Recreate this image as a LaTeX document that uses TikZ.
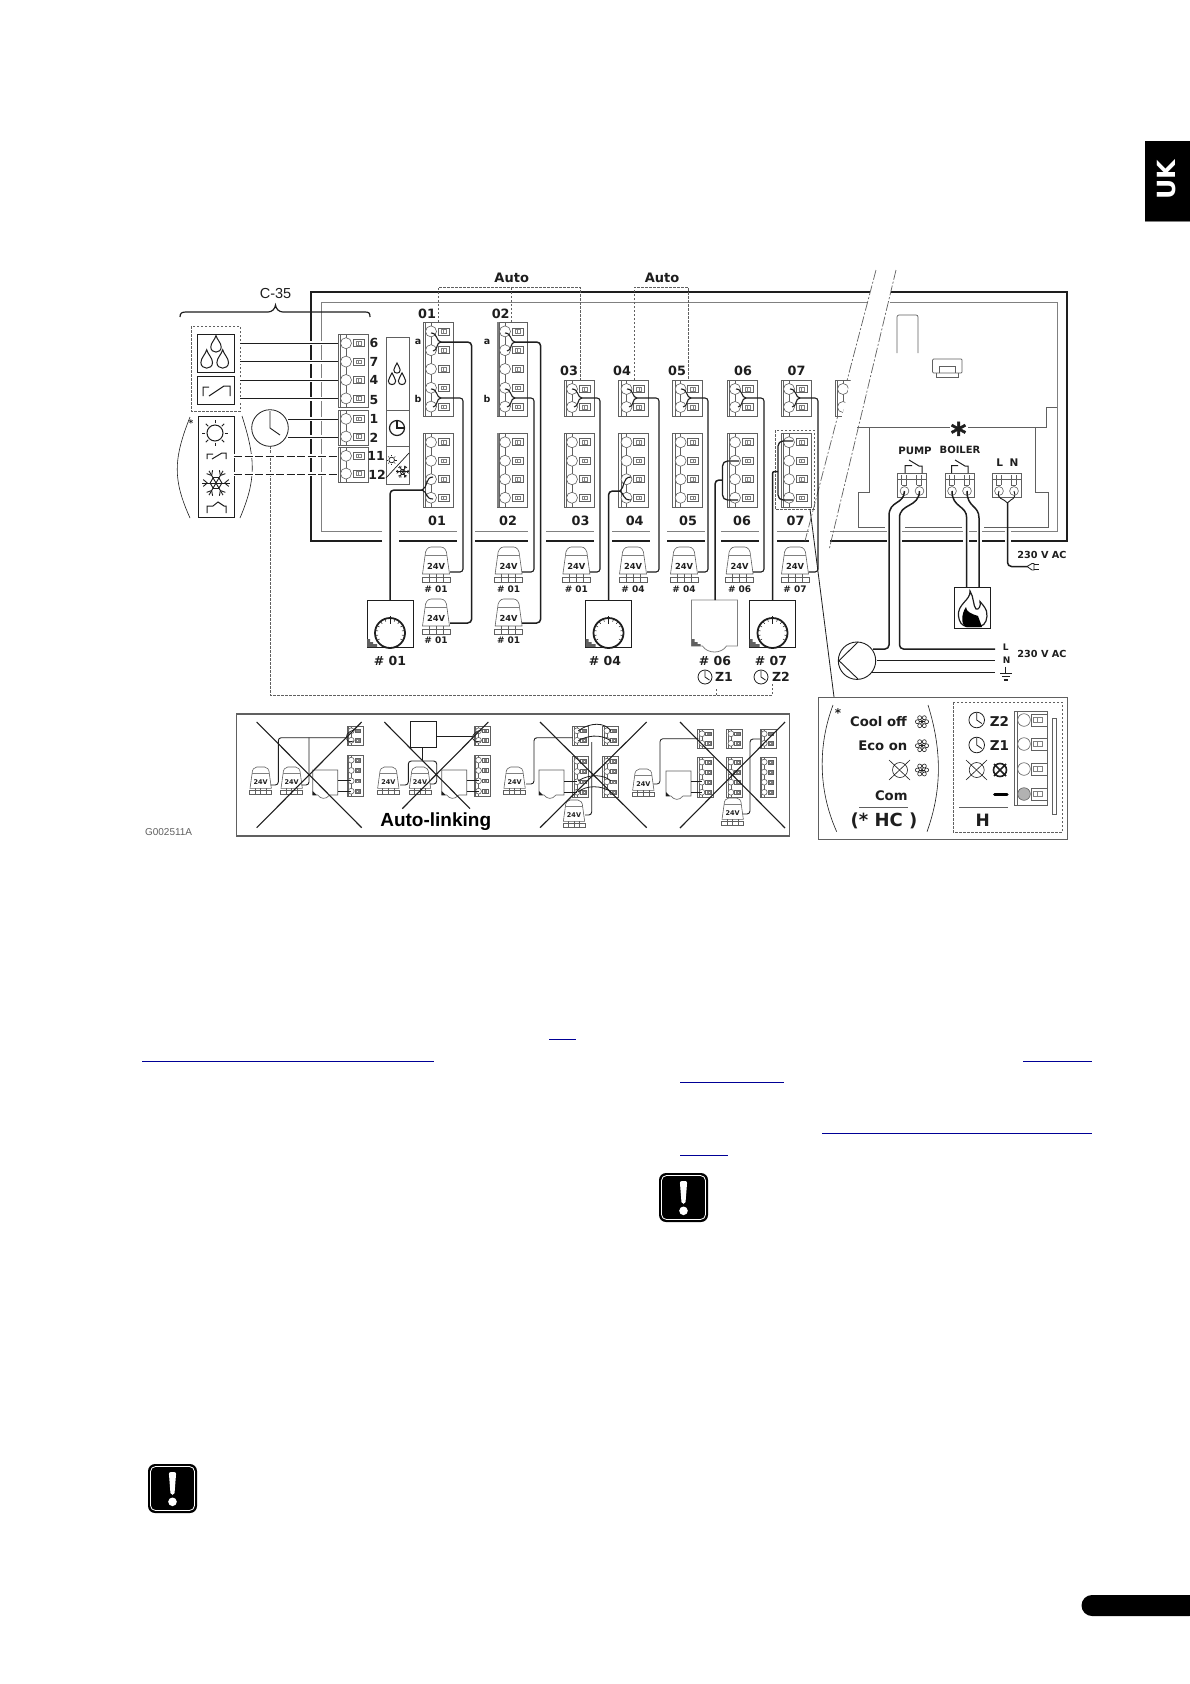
\documentclass[tikz,border=0pt]{standalone}
\usepackage{fontspec}
\setmainfont{Liberation Sans}
\newfontfamily\djfont{DejaVu Sans}
\newfontfamily\starfont[FakeBold=1.6]{DejaVu Sans Bold}
\newcommand\djb[1]{\djfont\bfseries\fontsize{#1}{#1}\selectfont}
\newcommand\arl[1]{\fontsize{#1}{#1}\selectfont}
\definecolor{ink}{HTML}{1E1E1E}
\definecolor{midg}{HTML}{606060}
\definecolor{lineg}{HTML}{808080}
\definecolor{linkb}{HTML}{000096}
\tikzset{
  tb/.style={draw=midg,line width=.6pt},
  wire/.style={draw=ink,line width=1.5pt,rounded corners=4pt},
  thin wire/.style={draw=ink,line width=1.1pt,rounded corners=3pt},
  hwire/.style={draw=ink,line width=.9pt,preaction={draw=white,line width=4pt,solid}},
  dashw/.style={draw=ink,line width=1pt,dash pattern=on 8pt off 2.5pt,preaction={draw=white,line width=4pt,solid}},
  thinw/.style={draw=ink,line width=.7pt},
  autod/.style={draw=midg,line width=.7pt,dash pattern=on 2.5pt off 1.5pt},
  frameo/.style={draw=ink,line width=1.4pt},
  framei/.style={draw=lineg,line width=.9pt},
  iconl/.style={draw=ink,line width=1pt},
  cutl/.style={draw=midg,line width=.7pt,dash pattern=on 10pt off 2pt on 2pt off 2pt},
  xl/.style={draw=ink,line width=1.1pt},
  txt/.style={inner sep=0pt,text=ink}
}
% terminal block: x,y,rows,pitch
\newcommand\tblock[4]{%
  \begin{scope}[shift={(#1,#2)}]
    \draw[tb,fill=white] (0,0) rectangle (30,#3*#4);
    \foreach \r in {1,...,#3}{%
      \pgfmathsetmacro\yy{(\r-0.5)*#4}%
      \pgfmathsetmacro\ya{(\r-1)*#4}%
      \pgfmathsetmacro\yb{\r*#4}%
      \draw[tb] (2.5,\ya) -- (2.5,\yb) (2.5,\yy) -- (8,\yy);
      \draw[tb] (8,\ya) -- (8,\yb);
      \draw[tb,fill=white] (8,\yy) circle[radius=5.5];
      \draw[tb,fill=white] (15,\yy-3.5) rectangle (26,\yy+3.5);
      \draw[tb,draw=lineg] (18,\yy-1.8) rectangle (20.5,\yy+1.8) (20.5,\yy-1.8) rectangle (23,\yy+1.8);
    }
  \end{scope}}
\newcommand\stblock[4]{\begin{scope}[shift={(#1,#2)},scale=.53]\tblock{0}{0}{#3}{#4}\end{scope}}
% actuator: cx,top,scale,fontsize,name
\newcommand\act[5]{%
  \begin{scope}[shift={(#1,#2)},scale=#3]
    \draw[tb,fill=white] (-13.5,27) -- (-11,9) .. controls (-11,3) and (-8,0) .. (-5,0) -- (5,0) .. controls (8,0) and (11,3) .. (11,9) -- (13.5,27) -- cycle;
    \draw[draw=lineg,line width=.5pt] (-11,8) -- (11,8);
    \draw[tb] (-14,30) rectangle (14,35) (-7,27) -- (-7,35) (0,27) -- (0,35) (7,27) -- (7,35);
    \node[txt,font=\djb{#4}] (#5) at (0,19) {24V};
  \end{scope}}
% thermostat with dial: cx,top
\newcommand\dialic[2]{%
  \begin{scope}[shift={(#1,#2)}]
    \draw[draw=ink,line width=.8pt,fill=white] (-23,0) rectangle (23,47);
    \fill[midg] (-23,47) -- (-23,39) -- (-20,39) -- (-20,42) -- (-17,42) -- (-17,44) -- (-13,44) -- (-13,47) -- cycle;
    \draw[draw=ink,line width=1.8pt,fill=white] (0,33) circle[radius=15];
    \foreach \a in {-210,-190,...,30}{\draw[draw=ink,line width=.5pt] ($(0,33)+(\a:15)$) -- ($(0,33)+(\a:12)$);}
    \draw[draw=ink,line width=.7pt] (0,16) -- (0,24);
  \end{scope}}
\newcommand\tplain[2]{%
  \begin{scope}[shift={(#1,#2)}]
    \draw[draw=lineg,line width=.8pt,fill=white] (-23,0) -- (23,0) -- (23,46) -- (12,46) .. controls (7,54) and (-7,54) .. (-12,46) -- (-23,46) -- cycle;
    \fill[midg] (-23,46) -- (-23,39) -- (-20,39) -- (-20,42) -- (-17,42) -- (-17,44) -- (-14,44) -- (-14,46) -- cycle;
  \end{scope}}
\newcommand\stbox[2]{%
  \begin{scope}[shift={(#1,#2)}]
    \draw[draw=midg,line width=.6pt,fill=white] (0,0) -- (25,0) -- (25,25) -- (17,25) .. controls (13,30) and (8,29) .. (5,25) -- (0,25) -- cycle;
    \fill[ink] (0,25) -- (0,21) -- (4,25) -- cycle;
  \end{scope}}
\newcommand\clk[3]{%
  \draw[draw=ink,line width=.8pt] (#1,#2) circle[radius=#3];
  \draw[draw=ink,line width=.8pt] (#1,#2-.9*#3) -- (#1,#2) -- (#1+.65*#3,#2+.45*#3);}
\newcommand\dropic[3]{% cx, cy of bulb, r
  \draw[iconl] (#1,#2-2.2*#3) .. controls (#1+.2*#3,#2-1.4*#3) and (#1+#3,#2-.8*#3) .. (#1+#3,#2)
     .. controls (#1+#3,#2+1.3*#3) and (#1-#3,#2+1.3*#3) .. (#1-#3,#2)
     .. controls (#1-#3,#2-.8*#3) and (#1-.2*#3,#2-1.4*#3) .. cycle;}
\newcommand\sunic[3]{%
  \draw[iconl] (#1,#2) circle[radius=#3];
  \foreach \a in {0,45,...,315}{\draw[iconl] ($(#1,#2)+(\a:#3+1.6)$) -- ($(#1,#2)+(\a:#3+5)$);}}
\newcommand\snowic[4]{% x,y,r,lw
  \foreach \a in {0,60,...,300}{%
    \draw[draw=ink,line width=#4] (#1,#2) -- ++(\a:#3);
    \draw[draw=ink,line width=#4] ($(#1,#2)+(\a:.42*#3)$) -- ($(#1,#2)+(\a+60:.42*#3)$);
    \draw[draw=ink,line width=#4] ($(#1,#2)+(\a:.62*#3)$) -- ++(\a+40:.38*#3);
    \draw[draw=ink,line width=#4] ($(#1,#2)+(\a:.62*#3)$) -- ++(\a-40:.38*#3);
  }}
\newcommand\ringsnow[2]{%
  \foreach \a in {0,60,...,300}{%
    \draw[draw=ink,line width=.6pt] (#1,#2) -- ++(\a:3);
    \draw[draw=ink,line width=.6pt] ($(#1,#2)+(\a:4.6)$) circle[radius=2];
  }}
\newcommand\fork[3]{% x (circle), y1, y2 : to x+11, mid
  \pgfmathsetmacro\ym{(#2+#3)/2}%
  \draw[draw=ink,line width=1.1pt] (#1,#2) .. controls (#1+7,#2) and (#1+5,\ym) .. (#1+10,\ym);
  \draw[draw=ink,line width=1.1pt] (#1+2,#3) .. controls (#1+7,#3) and (#1+5,\ym) .. (#1+10,\ym);}
\newcommand\pblock[3]{% x
  \begin{scope}[shift={(#1,473)}]
    \draw[tb,fill=white] (0,0) rectangle (29,24);
    \draw[tb] (0,6) -- (29,6);
    \draw[tb] (4,2) -- (4,12) (9,2) -- (9,12) (19,2) -- (19,12) (24,2) -- (24,12) (4,12) -- (9,12) (19,12) -- (24,12);
    \draw[tb,fill=white] (7,18) circle[radius=4.4] (22,18) circle[radius=4.4];
  \end{scope}}
\newcommand\warnic[2]{%
  \begin{scope}[shift={(#1,#2)}]
    \fill[black,rounded corners=7pt] (0,0) rectangle (49,49);
    \draw[white,line width=.8pt,rounded corners=5pt] (2.5,2.5) rectangle (46.5,46.5);
    \fill[white,rounded corners=2pt] (20.8,8) -- (28.2,8) -- (26.4,31) -- (22.6,31) -- cycle;
    \fill[white] (24.5,37.8) circle[radius=4.3];
  \end{scope}}
\usetikzlibrary{calc}
\begin{document}
\begin{tikzpicture}[x=1pt,y=-1pt]
\useasboundingbox (0,0) rectangle (1190,1684);
\fill[white] (0,0) rectangle (1190,1684);

% ===== page decorations
\fill[black] (1145,141) rectangle (1190,221);
\draw[draw=lineg,line width=.8pt] (1145,221.5) -- (1190,221.5);
\node[inner sep=0pt,text=white,font=\djb{25},rotate=90] (uk) at (1166.5,180) {UK};
\fill[black,rounded corners=10.5pt] (1081.5,1595) rectangle (1200,1616);
\warnic{659}{1173}
\warnic{148}{1464}
\foreach \a/\b/\c in {549/576/1039.3,142/434/1061.3,1023.4/1092/1061.3,680/784/1082.7,822/1092/1133.3,680/728/1155.3}{\draw[draw=linkb,line width=1pt] (\a,\c) -- (\b,\c);}

% ===== housing frames
\draw[frameo] (382,541) -- (311,541) -- (311,292) -- (870,292);
\draw[frameo] (891,292) -- (1067,292) -- (1067,541) -- (1011,541);
\draw[framei] (382,531) -- (321,531) -- (321,302) -- (867,302);
\draw[framei] (889.5,302) -- (1057,302) -- (1057,531) -- (1011,531);
\foreach \a/\b in {399/457,475/528,546/594,612/650,667/705,721/759,777/809,830/887,902/963,969/977,982/1005}{
  \draw[frameo] (\a,541) -- (\b,541);
  \draw[framei] (\a,531) -- (\b,531);}
% break lines
\draw[cutl] (876,270) -- (805,541);
\draw[cutl] (896,270) -- (829,550);
% PCB outline right part
\draw[draw=midg,line width=.7pt] (857,427) -- (950,427) (968,427) -- (1046,427) -- (1046,407) -- (1057,407);
\draw[draw=midg,line width=.7pt] (869,427) -- (869,492) -- (858.5,492) -- (858.5,527) -- (885,527) (905,527) -- (962,527) (984,527) -- (1048,527) -- (1048,492) -- (1035,492) -- (1035,427);
\draw[draw=midg,line width=.7pt,rounded corners=2pt] (897,353) -- (897,315) -- (918,315) -- (918,353);
\draw[draw=midg,line width=.7pt,rounded corners=1pt] (932.5,359) rectangle (962,373);
\draw[draw=midg,line width=.7pt] (939.5,373) -- (939.5,366) -- (955,366) -- (955,373) (936,373) -- (936,377) -- (958,377) -- (958,373);
\node[txt,font=\starfont\fontsize{30}{30}\selectfont] (star) at (958.5,433) {*};

% ===== C-35 brace
\node[txt,font=\arl{14.5}] (c35) at (275.5,294) {C-35};
\draw[draw=ink,line width=1.2pt] (180,317) .. controls (180,313) and (182,312) .. (186,312) -- (268,312) .. controls (272,312) and (275,309) .. (275.5,305) .. controls (276,309) and (279,312) .. (283,312) -- (365,312) .. controls (369,312) and (370,313) .. (370,317);

% ===== left input boxes
\draw[autod] (191,326) rectangle (240,411);
\draw[draw=ink,line width=.9pt] (197,334) rectangle (234,372);
\draw[draw=ink,line width=.9pt] (197,376) rectangle (234,404);
\draw[draw=ink,line width=.9pt] (198,416) rectangle (234,517);
\dropic{216}{347}{5.2}
\dropic{206.7}{362.5}{5.8}
\dropic{222.7}{362.5}{5.8}
\draw[iconl] (203,396) -- (203,387) -- (209,387) (209,396) -- (224,386) -- (230,386) -- (230,396);
\sunic{215}{433}{8}
\draw[iconl] (207,459) -- (207,454) -- (213,454) (212,459) -- (222,453) -- (226,453) -- (226,459);
\snowic{216}{483}{14}{.9pt}
\draw[iconl] (207,513) -- (207,506) -- (213,506) -- (218,502) -- (224,506) -- (226,506) -- (226,513);
\draw[draw=ink,line width=.6pt] (190,417) .. controls (173,460) and (173,480) .. (190,518);
\draw[draw=ink,line width=.6pt] (242,416) .. controls (256,460) and (256,480) .. (240,518);
\node[txt,font=\djb{9}] (astl) at (191,423) {*};

% ===== timer clock and its bus
\draw[autod] (270,446) -- (270,695) -- (772,695) -- (772,683);
\draw[autod] (716,695) -- (716,688);

% ===== auto dashed
\draw[autod] (438,322) -- (438,287) -- (580,287) -- (580,380);
\draw[autod] (511.7,322) -- (511.7,287);
\draw[autod] (634.4,380) -- (634.4,287) -- (688,287) -- (688,380);
\node[txt,font=\djb{13}] (auto1) at (511.7,277.5) {Auto};
\node[txt,font=\djb{13}] (auto2) at (662,277.5) {Auto};

% ===== wires to C-35
\coordinate (c6) at (347,343); \coordinate (c7) at (347,361.5); \coordinate (c4) at (347,380);
\coordinate (c5) at (347,398.5); \coordinate (c1) at (347,419); \coordinate (c2) at (347,437);
\coordinate (c11) at (347,456); \coordinate (c12) at (347,474);
\draw[hwire] (240,343) -- (c6);
\draw[hwire] (240,361.5) -- (c7);
\draw[hwire] (240,380) -- (c4);
\draw[hwire,line width=.7pt] (240,398.5) -- (c5);
\draw[hwire] (288,419) -- (c1);
\draw[hwire] (288,437) -- (c2);
\draw[dashw] (234,456) -- (c11);
\draw[dashw] (234,474) -- (c12);
\draw[draw=ink,line width=.8pt,fill=white] (270,428) circle[radius=18.3];
\draw[draw=ink,line width=.9pt] (270,411) -- (270,428) -- (280,435);

% ===== C-35 terminals
\tblock{338}{334}{4}{18.4}
\tblock{338}{410}{2}{17.7}
\tblock{338}{447}{2}{17.7}
\foreach \n/\y/\x/\lab in {t6/342.5/374/6,t7/362/374/7,t4/380/374/4,t5/400/374/5,t1/419/374/1,t2/438/374/2,t11/456/376/11,t12/475/377/12}{
  \node[txt,font=\djb{12.5}] (\n) at (\x,\y) {\lab};}
% function panel
\draw[draw=midg,line width=.7pt] (386,337) rectangle (409,484) (386,410) -- (409,410) (386,446) -- (409,446);
\dropic{397}{370}{3.2}
\dropic{392}{381}{3.7}
\dropic{402}{381}{3.7}
\draw[draw=ink,line width=1.2pt] (397,428) circle[radius=7.5];
\draw[draw=ink,line width=1.2pt] (397,420.5) -- (397,428) -- (404,428);
\draw[draw=ink,line width=.7pt] (386,478) -- (409,453);
\draw[draw=ink,line width=.7pt] (391.7,460) circle[radius=2.8];
\foreach \a in {0,45,...,315}{\draw[draw=ink,line width=.5pt] ($(391.7,460)+(\a:3.6)$) -- ($(391.7,460)+(\a:5)$);}
\snowic{402.7}{471.7}{6.5}{.7pt}

% ===== top row of terminal blocks
\tblock{423}{322}{5}{18.8}
\tblock{497}{322}{5}{18.8}
\fill[lineg] (497,322) rectangle (499,416);
\foreach \x in {564,618.5,672.6,727,781}{\tblock{\x}{380}{2}{18}}
\begin{scope}
  \clip (830,375) -- (852,375) -- (841,420) -- (830,420) -- cycle;
  \tblock{835}{380}{2}{18}
\end{scope}
\foreach \x in {423,497,564,618.5,672.6,727,781}{\tblock{\x}{433}{4}{18.5}}
\fill[lineg] (497,433) rectangle (499,507);
\draw[autod] (775,430) rectangle (814,509);

% labels above and below blocks
\foreach \n/\x/\y/\lab in {u1/427/314/01,u2/500.7/314/02,u3/569/371/03,u4/622/371/04,u5/677/371/05,u6/743/371/06,u7/796.5/371/07,
  d1/437/521/01,d2/508/521/02,d3/580.6/521/03,d4/634.7/521/04,d5/688/521/05,d6/742/521/06,d7/795.5/521/07}{
  \node[txt,font=\djb{12.8}] (\n) at (\x,\y) {\lab};}
\node[txt,font=\djb{9.5}] (la1) at (418,341.5) {a};
\node[txt,font=\djb{9.5}] (lb1) at (418,398.5) {b};
\node[txt,font=\djb{9.5}] (la2) at (487,341.5) {a};
\node[txt,font=\djb{9.5}] (lb2) at (487,398.5) {b};

% ===== actuators
\foreach \n/\x/\y in {a1/436/547,a2/436/599,a3/508.6/547,a4/508.6/599,a5/576.4/547,a6/633/547,a7/684/547,a8/739.6/547,a9/795/547}{
  \act{\x}{\y}{1}{8.3}{\n}}
\foreach \n/\x/\y/\lab in {n1/436/589/{\# 01},n2/436/640/{\# 01},n3/508.6/589/{\# 01},n4/508.6/640/{\# 01},n5/576.4/589/{\# 01},n6/633/589/{\# 04},n7/684/589/{\# 04},n8/739.6/589/{\# 06},n9/795/589/{\# 07}}{
  \node[txt,font=\djb{9}] (\n) at (\x,\y) {\lab};}
\coordinate (e1) at (450,572); \coordinate (e2) at (450,623);
\coordinate (e3) at (522,572); \coordinate (e4) at (522,623);
\coordinate (e5) at (590,572); \coordinate (e6) at (647,572);
\coordinate (e7) at (698,572); \coordinate (e8) at (753,572); \coordinate (e9) at (808.5,572);

% ===== forks and wires from actuator channels
\fork{431}{333}{351} \fork{431}{389}{407}
\fork{505}{333}{351} \fork{505}{389}{407}
\coordinate (f1a) at (441,342); \coordinate (f1b) at (441,398);
\coordinate (f2a) at (515,342); \coordinate (f2b) at (515,398);
\draw[wire] (f1a) -- (471.7,342) -- (471.7,623) -- (e2);
\draw[thin wire] (f1b) -- (463,398) -- (463,572) -- (e1);
\draw[wire] (f2a) -- (540.7,342) -- (540.7,623) -- (e4);
\draw[thin wire] (f2b) -- (534,398) -- (534,572) -- (e3);
\foreach \x/\w/\e in {572/600/e5,627/659/e6,681/708/e7,736/764/e8,790/818/e9}{
  \fork{\x}{389}{407}
  \pgfmathsetmacro\fx{\x+10}
  \draw[thin wire] (\fx,398) -- (\w,398) -- (\w,572) -- (\e);}

% ===== bottom-block brackets and thermostat wires
\dialic{390}{600} \dialic{608.5}{600} \dialic{772.5}{600} \tplain{714.5}{600}
\node[txt,font=\djb{12.5}] (th1) at (390,661) {\# 01};
\node[txt,font=\djb{12.5}] (th4) at (605,661) {\# 04};
\node[txt,font=\djb{12.5}] (th6) at (715,661) {\# 06};
\node[txt,font=\djb{12.5}] (th7) at (771,661) {\# 07};
\clk{705}{677}{7}
\clk{761}{677}{7}
\node[txt,font=\djb{12.5}] (z1) at (724,677) {Z1};
\node[txt,font=\djb{12.5}] (z2) at (781,677) {Z2};
\coordinate (bk1) at (422,490); \coordinate (th01) at (390,600);
\draw[draw=ink,line width=1.1pt] (433,477) .. controls (425,477) and (428,488) .. (bk1) .. controls (428,492) and (425,499) .. (433,499);
\draw[wire] (bk1) -- (390,490) -- (th01);
\coordinate (bk4) at (620,491); \coordinate (th04) at (608.5,600);
\draw[draw=ink,line width=1.1pt] (631,477) .. controls (622,477) and (625,488) .. (bk4) .. controls (625,494) and (622,500) .. (631,500);
\draw[wire] (bk4) -- (608.5,491) -- (th04);
\coordinate (bk6) at (722.5,480); \coordinate (th06) at (715,600);
\draw[draw=ink,line width=1.3pt,rounded corners=5pt] (739,461) -- (722.5,461) -- (722.5,500) -- (738,500);
\draw[wire] (bk6) -- (715,480) -- (th06);
\coordinate (bk7) at (778,471.5); \coordinate (th07) at (772.5,600);
\draw[draw=ink,line width=1.3pt,rounded corners=5pt] (793,441) -- (778,441) -- (778,500) -- (793,500);
\draw[wire,rounded corners=2pt] (bk7) -- (772.5,471.5) -- (th07);
\coordinate (dbox) at (810,509); \coordinate (inset) at (834,697);
\draw[draw=ink,line width=.8pt] (dbox) -- (inset);

% ===== power side
\node[txt,font=\djb{10.2}] (pump) at (915,451) {PUMP};
\node[txt,font=\djb{10}] (boil) at (960,450) {BOILER};
\node[txt,font=\djb{10.5}] (ll) at (999.7,463) {L};
\node[txt,font=\djb{10.5}] (ln) at (1014,463) {N};
\pblock{897.5}{0}{}
\pblock{945}{0}{}
\pblock{992}{0}{}
\draw[iconl] (905,473) -- (905,465.5) -- (912,465.5) (909,460) -- (919,466) -- (922,466) -- (922,473);
\draw[iconl] (951.5,473) -- (951.5,465.5) -- (958,465.5) (955,460) -- (965,466) -- (968,466) -- (968,473);
\coordinate (p1) at (904.5,491); \coordinate (p2) at (919.5,491);
\coordinate (b1) at (952,491); \coordinate (b2) at (967,491);
\coordinate (m1) at (873,649); \coordinate (m2) at (995,649);
\draw[wire] (p1) .. controls (904,505) and (889,500) .. (889,520) -- (889,649) -- (m1);
\draw[wire] (p2) .. controls (919,508) and (899.5,503) .. (899.5,522) -- (899.5,649) -- (m2);
\coordinate (blr1) at (966.7,587); \coordinate (blr2) at (979,587);
\draw[wire] (b1) .. controls (952,508) and (966.7,505) .. (966.7,522) -- (blr1);
\draw[wire] (b2) .. controls (967,508) and (979,505) .. (979,522) -- (blr2);
\coordinate (lnj) at (1007.5,503); \coordinate (plug) at (1027,566.5);
\draw[draw=ink,line width=.9pt] (999,491) .. controls (996,500) and (1004,498) .. (lnj) .. controls (1011,498) and (1017,500) .. (1014,491);
\draw[wire] (lnj) -- (1007.5,566.5) -- (plug);
\draw[draw=ink,line width=.8pt] (plug) -- (1032,563.5) -- (1034,563.5) -- (1034,570) -- (1032,570) -- (plug);
\draw[draw=ink,line width=1.1pt] (1034,564.5) -- (1038.5,564.5) (1034,569.5) -- (1038.5,569.5);
\node[txt,font=\djb{9.7}] (v1) at (1042,555) {230 V AC};
\node[txt,font=\djb{9.7}] (v2) at (1042,654) {230 V AC};
\node[txt,font=\djb{9}] (mL) at (1005.7,647) {L};
\node[txt,font=\djb{9}] (mN) at (1006.7,660) {N};
\draw[draw=ink,line width=.9pt] (1005.7,666.5) -- (1005.7,673.3);
\draw[draw=ink,line width=1.2pt] (1000,673.3) -- (1011.7,673.3) (1002,676.8) -- (1009.5,676.8) (1003.7,680) -- (1007.7,680);
\draw[draw=ink,line width=1.2pt] (877,660.7) -- (995,660.7);
\draw[draw=ink,line width=1.2pt] (872,672.7) -- (995,672.7);
\draw[draw=ink,line width=.9pt,fill=white] (857,660.7) circle[radius=18.7];
\draw[draw=ink,line width=.9pt] (858,642) -- (839,660.7) -- (858,679);
% boiler
\draw[draw=ink,line width=.9pt,fill=white] (954.7,587) rectangle (990.7,628);
\draw[draw=ink,line width=1.2pt] (970,591) .. controls (971,600) and (957,604) .. (958.5,616) .. controls (959,622) and (962,626) .. (967,626.5) -- (980,626.5) .. controls (986,625) and (988,618) .. (986.5,611) .. controls (985,607) and (982,604) .. (980,601.5) .. controls (981,606) and (979,610) .. (976,609) .. controls (973,606) and (974,597) .. (970,591) -- cycle;
\fill[black] (966,607) .. controls (966,612) and (972,614) .. (978,616) -- (982,627) -- (966,627) .. controls (961,625) and (961,614) .. (966,607) -- cycle;

% ===== inset
\draw[draw=midg,line width=1pt,fill=white] (818.7,697) rectangle (1067,839);
\draw[autod] (953,702) rectangle (1062,832);
\draw[draw=ink,line width=.6pt] (833,705) .. controls (818,745) and (818,790) .. (836.7,831.7);
\draw[draw=ink,line width=.6pt] (928,705) .. controls (942,750) and (942,790) .. (927,831.7);
\node[txt,font=\djb{12}] (ins) at (838,713) {*};
\node[txt,font=\djb{13.2},anchor=east] (cool) at (907,721.7) {Cool off};
\node[txt,font=\djb{13.2},anchor=east] (eco) at (907.5,745.7) {Eco on};
\node[txt,font=\djb{13.2},anchor=east] (com) at (907.7,795.7) {Com};
\ringsnow{922}{721.7}
\ringsnow{922}{745.7}
\ringsnow{922}{770}
\draw[draw=ink,line width=.6pt] (900,770) circle[radius=7.5] (889,780) -- (910,760) (889,760) -- (910,780);
\draw[draw=midg,line width=.7pt] (859,807.7) -- (907.7,807.7);
\node[txt,font=\djb{18}] (hc) at (884,821) {(* HC )};
\clk{976.7}{720}{7.8}
\clk{976.7}{745}{7.8}
\node[txt,font=\djb{13.5}] (zz2) at (999.5,721) {Z2};
\node[txt,font=\djb{13.5}] (zz1) at (999.5,745.5) {Z1};
\draw[draw=ink,line width=.6pt] (976.7,770) circle[radius=7.5] (966,780) -- (987,760) (966,760) -- (987,780);
\draw[draw=ink,line width=1.6pt] (1000,770) circle[radius=6.5] (994,776) -- (1006,764) (994,764) -- (1006,776);
\draw[draw=black,line width=3pt,line cap=round] (994.5,794) -- (1007,794);
\draw[draw=midg,line width=.7pt] (959,807.7) -- (1008,807.7);
\node[txt,font=\djb{17}] (hh) at (982.7,820) {H};
\draw[tb] (1014,711) rectangle (1047,805);
\draw[tb] (1017,711) -- (1017,805) (1032,711) -- (1047,711);
\foreach \y/\c in {720/white,744/white,769/white,794/gray!60}{
  \draw[tb,fill=\c] (1024,\y) circle[radius=6.3];
  \draw[tb] (1031,\y-6) rectangle (1047,\y+6);
  \draw[tb,draw=lineg] (1033,\y-2.5) rectangle (1037.5,\y+2.5) (1037.5,\y-2.5) rectangle (1042,\y+2.5);}
\draw[tb] (1052.7,718) rectangle (1056.7,814);

% ===== wrong-wiring strip
\draw[draw=midg,line width=1.1pt] (236.8,714) rectangle (789.4,836);
\node[txt,font=\arl{10},text=midg] (gcode) at (168.6,832) {G002511A};
% scene 1
\act{260.7}{767}{.79}{6.5}{s11}
\act{291.7}{767}{.79}{6.5}{s12}
\stblock{347}{726}{2}{18}
\stblock{347}{755}{4}{19.5}
\stbox{312.7}{770}
\draw[thin wire,line width=.9pt] (270.7,785) -- (278.3,785) -- (278.3,737.7) -- (347.3,737.7);
\draw[thin wire,line width=.9pt] (301.7,785) -- (309,785) -- (309,737.7);
\draw[draw=ink,line width=.6pt] (337.7,780) -- (351,780) (337.7,791) -- (351,791);
\draw[draw=ink,line width=.7pt] (354,730) .. controls (346,732) and (346,737) .. (347,737.7) .. controls (346,740) and (348,743) .. (354,741);
\draw[xl] (256.7,722) -- (361.7,827.7) (361.7,722) -- (256.7,827.7);
% scene 2
\act{388.3}{767}{.79}{6.5}{s21}
\act{420}{767}{.79}{6.5}{s22}
\stblock{474.3}{726}{2}{18}
\stblock{474.3}{755}{4}{19.5}
\stbox{441.7}{770}
\draw[draw=ink,line width=.7pt] (410.7,721.7) rectangle (436.7,747.7);
\draw[thin wire,line width=.9pt] (436.7,736.7) -- (472,736.7);
\draw[draw=ink,line width=.8pt] (422.7,747.7) -- (422.7,761);
\draw[thin wire,line width=.9pt] (400,785) -- (408.3,785) -- (408.3,761) -- (436.7,761) -- (436.7,784) -- (430,784);
\draw[draw=ink,line width=.6pt] (466.7,780) -- (479,780) (466.7,791) -- (479,791);
\draw[draw=ink,line width=.7pt] (481,730) .. controls (473,732) and (473,737) .. (472,737) .. controls (473,740) and (475,743) .. (481,741);
\draw[xl] (384.3,722) -- (470,808.7) (488.3,722) -- (402.3,808.7);
\node[inner sep=0pt,text=black,font=\arl{19}\bfseries] (autolink) at (435.7,822) {Auto-linking};
% scene 3
\act{514.6}{767}{.79}{6.5}{s31}
\act{574}{800}{.79}{6.5}{s32}
\stblock{572.7}{726}{2}{18}
\stblock{572.7}{756}{4}{19.5}
\stblock{602.7}{726}{2}{18}
\stblock{602.7}{756}{4}{19.5}
\stbox{539}{770}
\draw[thin wire,line width=.9pt] (526,784) -- (534,784) -- (534,737.7) -- (572.7,737.7);
\draw[thin wire,line width=.9pt] (591.7,742) -- (591.7,815) -- (585,815);
\draw[draw=ink,line width=.6pt] (564.3,781) -- (577,781) (564.3,792) -- (577,792);
\draw[draw=ink,line width=.8pt] (578,731) .. controls (590,722) and (605,722) .. (611,731) (578,741) .. controls (586,736) and (600,733) .. (611,741);
\draw[draw=ink,line width=.8pt] (578,781) .. controls (590,773) and (605,775) .. (611,781) (578,792) .. controls (586,785) and (602,785) .. (611,792);
\draw[xl] (540,722) -- (646.7,827.7) (646.7,722) -- (540,827.7);
% scene 4
\act{643.3}{769}{.79}{6.5}{s41}
\act{732.7}{798}{.79}{6.5}{s42}
\stblock{697.7}{729}{2}{18}
\stblock{697.7}{757}{4}{19}
\stblock{726.7}{729}{2}{18}
\stblock{726.7}{757}{4}{19}
\stblock{760}{729}{2}{18}
\stblock{760}{757}{4}{19}
\stbox{666}{771}
\draw[thin wire,line width=.8pt] (653.3,784) -- (660,784) -- (660,738.7) -- (698.3,738.7);
\draw[thin wire,line width=.9pt] (742.7,814) -- (750,814) -- (750,739) -- (760,739);
\draw[draw=ink,line width=.6pt] (691,781) -- (702,781) (691,792) -- (702,792);
\draw[xl] (680,722) -- (785,828) (785,722) -- (680,828);
\end{tikzpicture}
\end{document}
